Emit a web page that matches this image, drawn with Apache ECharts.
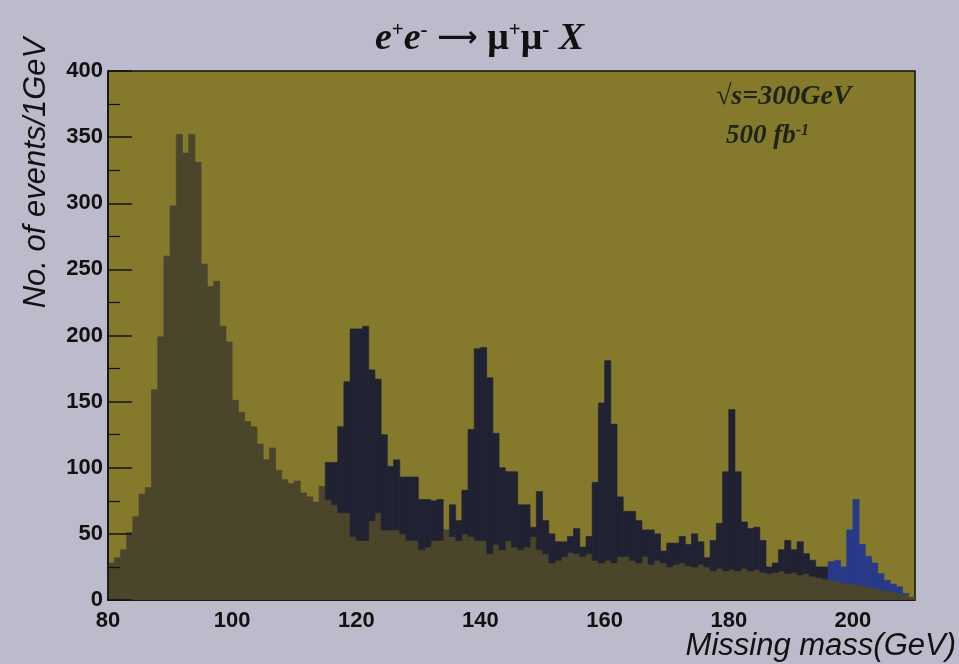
<!DOCTYPE html>
<html>
<head>
<meta charset="utf-8">
<script src="https://cdn.jsdelivr.net/npm/echarts@6/dist/echarts.min.js"></script>
<style>
  html, body { margin: 0; padding: 0; background: #bcbbcb; }
  #chart { width: 959px; height: 664px; }
</style>
</head>
<body>
<div id="chart"></div>
<script>
// Lower edges of the 1 GeV missing-mass bins
const massBins = [
  80, 81, 82, 83, 84, 85, 86, 87, 88, 89,
  90, 91, 92, 93, 94, 95, 96, 97, 98, 99,
  100, 101, 102, 103, 104, 105, 106, 107, 108, 109,
  110, 111, 112, 113, 114, 115, 116, 117, 118, 119,
  120, 121, 122, 123, 124, 125, 126, 127, 128, 129,
  130, 131, 132, 133, 134, 135, 136, 137, 138, 139,
  140, 141, 142, 143, 144, 145, 146, 147, 148, 149,
  150, 151, 152, 153, 154, 155, 156, 157, 158, 159,
  160, 161, 162, 163, 164, 165, 166, 167, 168, 169,
  170, 171, 172, 173, 174, 175, 176, 177, 178, 179,
  180, 181, 182, 183, 184, 185, 186, 187, 188, 189,
  190, 191, 192, 193, 194, 195, 196, 197, 198, 199,
  200, 201, 202, 203, 204, 205, 206, 207, 208, 209
];
const binWidth = 1;

// Standard-model background (Z peak and its tail), events per bin
const backgroundCounts = [
  28, 32, 38, 51, 63, 80, 85, 159, 199, 260,
  298, 352, 338, 352, 331, 254, 237, 241, 207, 195,
  151, 142, 135, 131, 118, 106, 115, 98, 91, 88,
  90, 81, 78, 74, 86, 76, 72, 66, 66, 48,
  45, 45, 60, 66, 53, 53, 53, 50, 45, 45,
  38, 40, 45, 45, 53, 48, 45, 50, 48, 45,
  45, 35, 42, 38, 45, 40, 38, 40, 48, 38,
  35, 28, 30, 33, 36, 35, 33, 35, 30, 28,
  30, 28, 33, 33, 30, 28, 33, 27, 30, 28,
  25, 27, 28, 26, 25, 27, 25, 22, 24, 22,
  23, 22, 24, 22, 23, 21, 20, 21, 22, 20,
  21, 19, 20, 18, 17, 16, 15, 14, 13, 12,
  12, 11, 10, 9, 8, 7, 6, 5, 4, 2
];

// Signal for X masses of 120, 140, 160 and 180 GeV
const signalCounts = [
  0, 0, 0, 0, 0, 0, 0, 0, 0, 0,
  0, 0, 0, 0, 0, 0, 0, 0, 0, 0,
  0, 0, 0, 0, 0, 0, 0, 0, 0, 0,
  0, 0, 0, 0, 0, 28, 32, 65, 99, 157,
  160, 162, 114, 101, 72, 48, 53, 43, 48, 48,
  38, 36, 30, 31, 0, 24, 15, 33, 81, 145,
  146, 133, 84, 62, 52, 57, 34, 32, 7, 44,
  25, 22, 14, 11, 12, 19, 7, 13, 59, 121,
  151, 105, 45, 34, 37, 32, 20, 26, 20, 9,
  18, 16, 20, 16, 25, 17, 7, 23, 34, 75,
  121, 75, 35, 32, 32, 24, 5, 7, 16, 25,
  17, 25, 15, 12, 8, 9, 0, 0, 0, 0,
  0, 0, 0, 0, 0, 0, 0, 0, 0, 0
];

// Signal for an X mass of 200 GeV
const signal200Counts = [
  0, 0, 0, 0, 0, 0, 0, 0, 0, 0,
  0, 0, 0, 0, 0, 0, 0, 0, 0, 0,
  0, 0, 0, 0, 0, 0, 0, 0, 0, 0,
  0, 0, 0, 0, 0, 0, 0, 0, 0, 0,
  0, 0, 0, 0, 0, 0, 0, 0, 0, 0,
  0, 0, 0, 0, 0, 0, 0, 0, 0, 0,
  0, 0, 0, 0, 0, 0, 0, 0, 0, 0,
  0, 0, 0, 0, 0, 0, 0, 0, 0, 0,
  0, 0, 0, 0, 0, 0, 0, 0, 0, 0,
  0, 0, 0, 0, 0, 0, 0, 0, 0, 0,
  0, 0, 0, 0, 0, 0, 0, 0, 0, 0,
  0, 0, 0, 0, 0, 0, 14, 16, 12, 41,
  64, 31, 23, 19, 12, 8, 6, 5, 1, 0
];

// Axis ranges and tick steps
const massAxis = { min: 80, max: 210, step: 20 };
const countAxis = { min: 0, max: 400, step: 50 };

// Stack each layer on the one below: [binLow, bottom, top]
function stackLayer(values, below) {
  return massBins.map(function (m, i) {
    const lo = below ? below[i] : 0;
    return [m, lo, lo + values[i]];
  });
}
const bgLayer = stackLayer(backgroundCounts, null);
const sigBase = backgroundCounts.slice();
const sigLayer = stackLayer(signalCounts, sigBase);
const sig200Base = sigBase.map(function (v, i) { return v + signalCounts[i]; });
const sig200Layer = stackLayer(signal200Counts, sig200Base);

function drawBins(color) {
  return function (params, api) {
    const lo = api.value(1);
    const hi = api.value(2);
    if (hi <= lo) return null;
    const m = api.value(0);
    const a = api.coord([m, lo]);
    const b = api.coord([m + binWidth, hi]);
    return {
      type: 'rect',
      shape: { x: a[0], y: b[1], width: b[0] - a[0], height: a[1] - b[1] },
      style: { fill: color, stroke: color, lineWidth: 0.6 }
    };
  };
}

function histSeries(name, data, color) {
  return {
    name: name,
    type: 'custom',
    renderItem: drawBins(color),
    data: data,
    encode: { x: 0, y: [1, 2] },
    clip: true,
    silent: true,
    animation: false
  };
}

const serifBoldItalic = { fontFamily: 'Liberation Serif', fontWeight: 'bold', fontStyle: 'italic' };
const inkColor = '#1c2416';

const chart = echarts.init(document.getElementById('chart'), null, { renderer: 'canvas' });
chart.setOption({
  backgroundColor: '#bcbbcb',
  animation: false,
  title: {
    left: 'center',
    top: 15,
    text: '{i|e}{s|+}{i|e}{s|-}{a| ⟶ }{m|μ}{s|+}{m|μ}{s|-}{i| X}',
    textStyle: {
      rich: {
        i: Object.assign({ fontSize: 38, color: '#111' }, serifBoldItalic),
        m: { fontFamily: 'Liberation Serif', fontWeight: 'bold', fontSize: 38, color: '#111' },
        a: { fontFamily: 'DejaVu Sans', fontWeight: 'bold', fontSize: 28, color: '#111' },
        s: { fontFamily: 'Liberation Serif', fontWeight: 'bold', fontSize: 21, color: '#111', verticalAlign: 'top' }
      }
    }
  },
  grid: {
    left: 108, right: 44, top: 71, bottom: 64,
    show: true,
    backgroundColor: '#85792b',
    borderColor: '#111',
    borderWidth: 1.5
  },
  xAxis: {
    type: 'value',
    min: massAxis.min,
    max: massAxis.max,
    interval: massAxis.step,
    axisLine: { show: true, lineStyle: { color: '#111', width: 1.5 } },
    axisTick: { show: false },
    splitLine: { show: false },
    axisLabel: {
      showMaxLabel: false,
      margin: 10,
      color: '#111',
      fontFamily: 'Liberation Sans',
      fontWeight: 'bold',
      fontSize: 22
    }
  },
  yAxis: {
    type: 'value',
    min: countAxis.min,
    max: countAxis.max,
    interval: countAxis.step,
    z: 5,
    axisLine: { show: true, lineStyle: { color: '#111', width: 1.5 } },
    axisTick: { show: true, inside: true, length: 24, lineStyle: { color: '#111', width: 1.5 } },
    minorTick: { show: true, splitNumber: 2, length: 12, lineStyle: { color: '#111', width: 1.2 } },
    splitLine: { show: false },
    axisLabel: {
      margin: 5,
      color: '#111',
      fontFamily: 'Liberation Sans',
      fontWeight: 'bold',
      fontSize: 22
    }
  },
  graphic: [
    {
      type: 'text',
      x: 36, y: 173,
      rotation: Math.PI / 2,
      style: {
        text: 'No. of events/1GeV',
        fill: '#111',
        font: 'italic 31px "Liberation Sans"',
        textAlign: 'center',
        textVerticalAlign: 'middle'
      }
    },
    {
      type: 'text',
      x: 956, y: 646,
      style: {
        text: 'Missing mass(GeV)',
        fill: '#111',
        font: 'italic 31px "Liberation Sans"',
        textAlign: 'right',
        textVerticalAlign: 'middle'
      }
    },
    {
      type: 'text',
      x: 716, y: 97,
      z: 10,
      style: {
        text: '√s=300GeV',
        fill: inkColor,
        font: 'italic bold 28px "Liberation Serif"',
        textAlign: 'left',
        textVerticalAlign: 'middle'
      }
    },
    {
      type: 'text',
      x: 726, y: 136,
      z: 10,
      style: {
        text: '{n|500 fb}{s|-1}',
        fill: inkColor,
        textAlign: 'left',
        textVerticalAlign: 'middle',
        rich: {
          n: Object.assign({ fontSize: 27, fill: inkColor }, serifBoldItalic),
          s: Object.assign({ fontSize: 16, fill: inkColor, verticalAlign: 'top' }, serifBoldItalic)
        }
      }
    }
  ],
  series: [
    histSeries('Background', bgLayer, '#4a452b'),
    histSeries('Signal', sigLayer, '#202132'),
    histSeries('Signal 200 GeV', sig200Layer, '#29398a')
  ]
});
</script>
</body>
</html>
